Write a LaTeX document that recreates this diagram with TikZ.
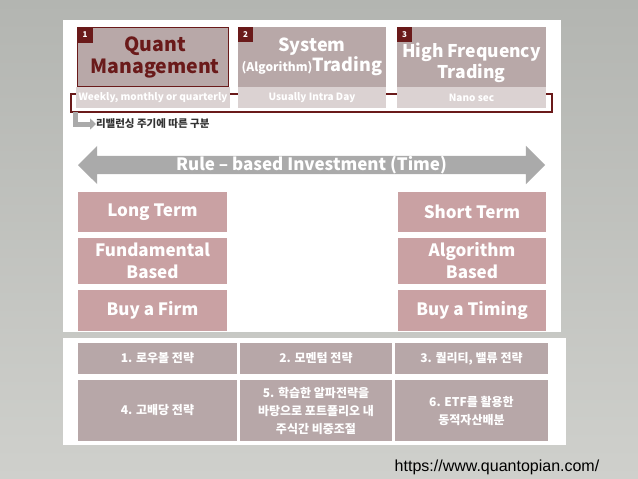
\documentclass[tikz,border=0pt]{standalone}
\usepackage{fontspec}
\setmainfont{Noto Sans CJK KR}
\newfontfamily\urlfont{Liberation Sans}
\usetikzlibrary{positioning, arrows.meta, shapes.arrows}

\definecolor{bgtop}{HTML}{B3B5B1}
\definecolor{bgbot}{HTML}{CFD0CC}
\definecolor{darkred}{HTML}{6A1A1A}
\definecolor{headfill}{HTML}{B8A8A8}
\definecolor{subfill}{HTML}{DBD2D2}
\definecolor{rosefill}{HTML}{C9A1A3}
\definecolor{cellfill}{HTML}{B7A7A8}
\definecolor{arrowgray}{HTML}{AAAAAA}

\newcommand{\fs}[1]{\fontsize{#1}{#1}\selectfont}

\tikzset{
  badge/.style={fill=darkred, text=white, font=\fs{8}\bfseries, minimum size=15, anchor=north west},
  headbox/.style={fill=headfill, minimum height=60},
  headtext/.style={text=white, align=center, font=\bfseries},
  subbox/.style={fill=subfill, text=white, minimum height=21, font=\fs{10}\bfseries},
  termbox/.style={fill=rosefill, text=white, align=center, font=\fontsize{17}{22}\selectfont\bfseries},
  cellbox/.style={fill=cellfill, text=white, align=center, font=\fontsize{12}{18}\selectfont\bfseries}
}

\begin{document}
\begin{tikzpicture}[x=1pt, y=-1pt, every node/.style={inner sep=0, outer sep=0}, >=Stealth]
    \useasboundingbox (0,0) rectangle (638,479);
    % ---------------- background and panels
    \shade[top color=bgtop, bottom color=bgbot] (0,0) rectangle (638,479);
    \fill[white] (63,20) rectangle (561,332);
    \fill[white] (63,338) rectangle (566,445);
    % ---------------- three trading kinds
    \draw[darkred, line width=1.2] (71,94) rectangle (552,112);
    \node (quant) [headbox, draw=darkred, line width=1.5, minimum width=151, minimum height=59] at (153,57) {};
    \node (quanttext) [headtext, text=darkred, font=\fontsize{19.5}{22}\selectfont\bfseries] at (155,57) {Quant\\Management};
    \node (system) [headbox, minimum width=148] at (312,57) {};
    \node (systemtext) [headtext, font=\fontsize{18}{20}\selectfont\bfseries] at (312,57) {System\\{\fs{12}(Algorithm)}Trading};
    \node (hft) [headbox, minimum width=149] at (471.5,57) {};
    \node (hfttext) [headtext, font=\fontsize{17.5}{21}\selectfont\bfseries] at (471.5,62.5) {High Frequency\\Trading};
    \node (b1) [badge] at (quant.north west) {1};
    \node (b2) [badge] at (system.north west) {2};
    \node (b3) [badge] at (hft.north west) {3};
    \node (weekly) [subbox, minimum width=154] at (153,97.5) {Weekly, monthly or quarterly};
    \node (intra) [subbox, minimum width=148] at (312,97.5) {Usually Intra Day};
    \node (nano) [subbox, minimum width=149] at (471.5,97.5) {Nano sec};
    \node (rebal) [anchor=west, text=black!80, font=\fs{10.5}\bfseries] at (96,124) {리밸런싱 주기에 따른 구분};
    \draw[arrowgray, line width=5, -{Triangle[length=6, width=11]}] (75,112) |- (rebal.west);
    % ---------------- time axis
    \node (rule) [double arrow, fill=arrowgray, minimum height=467, minimum width=30,
      double arrow head extend=10, text=white, font=\fs{17}\bfseries] at (311.5,165) {Rule -- based Investment (Time)};
    \node (long) [termbox, minimum width=149, minimum height=40] at (152.5,212) {Long Term};
    \node (fund) [termbox, minimum width=149, minimum height=46] at (152.5,261) {Fundamental\\Based};
    \node (firm) [termbox, minimum width=149, minimum height=41] at (152.5,310.5) {Buy a Firm};
    \node (short) [termbox, minimum width=148, minimum height=40] at (472,212) {Short Term};
    \node (algo) [termbox, minimum width=148, minimum height=46] at (472,261) {Algorithm\\Based};
    \node (timing) [termbox, minimum width=148, minimum height=41] at (472,310.5) {Buy a Timing};
    % ---------------- six strategies
    \node (s1) [cellbox, minimum width=159, minimum height=31] at (157.5,358.5) {1. 로우볼 전략};
    \node (s2) [cellbox, minimum width=152, minimum height=31] at (316,358.5) {2. 모멘텀 전략};
    \node (s3) [cellbox, minimum width=153, minimum height=31] at (471.5,358.5) {3. 퀄리티, 밸류 전략};
    \node (s4) [cellbox, minimum width=159, minimum height=61] at (157.5,410.5) {4. 고배당 전략};
    \node (s5) [cellbox, minimum width=152, minimum height=61] at (316,410.5) {5. 학습한 알파전략을\\바탕으로 포트폴리오 내\\주식간 비중조절};
    \node (s6) [cellbox, minimum width=153, minimum height=61] at (471.5,410.5) {6. ETF를 활용한\\동적자산배분};
    \node (url) [font=\urlfont\fs{16}] at (497,467) {https://www.quantopian.com/};
\end{tikzpicture}
\end{document}
